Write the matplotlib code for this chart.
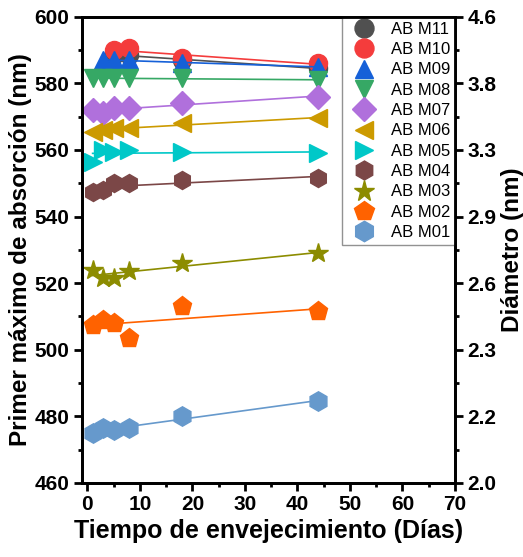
import matplotlib
matplotlib.use("Agg")
import matplotlib.pyplot as plt
import numpy as np
from matplotlib.ticker import MultipleLocator, FixedLocator

plt.rcParams['font.family'] = ['Liberation Sans', 'DejaVu Sans']

dias = [1, 3, 5, 8, 18, 44]
nan = np.nan

labels = ['AB M11', 'AB M10', 'AB M09', 'AB M08', 'AB M07', 'AB M06',
          'AB M05', 'AB M04', 'AB M03', 'AB M02', 'AB M01']
m11 = [nan, nan, 588.5, 588.5, 587, 584.5]
m10 = [nan, nan, 590, 590.5, 587.5, 586]
m09 = [nan, 587, 587, 587, 586, 585]
m08 = [581.5, 581.5, 581.5, 581.5, 581.5, 581]
m07 = [572, 571, 572.5, 572.5, 574, 576]
m06 = [565.5, 566, 566.7, 566.5, 568, 569.5]
m05 = [556.5, 560, 559.5, 560, 559.5, 559]
m04 = [547.5, 548, 550, 550, 551, 551.5]
m03 = [524, 521.5, 521.5, 523.5, 526, 529]
m02 = [507.5, 509, 508, 503.5, 513, 511.5]
m01 = [475, 476.5, 476, 476.5, 480, 484.5]
series = [m11, m10, m09, m08, m07, m06, m05, m04, m03, m02, m01]

colores = ['#505050', '#f43c3c', '#1560d8', '#36a865', '#b070dc', '#cc9a00',
           '#00c8c8', '#7b4747', '#8c8c00', '#ff6200', '#6699cc']
marcadores = ['o', 'o', '^', 'v', 'D', '<', '>', 'h', '*', 'p', 'h']
tamanos = [13, 13, 13, 13, 12, 13, 13, 13, 15, 14, 14]

diam_pos = [460, 480, 500, 520, 540, 560, 580, 600]
diam_txt = ['2.0', '2.2', '2.3', '2.6', '2.9', '3.3', '3.8', '4.6']

fig = plt.figure(figsize=(5.23, 5.57), dpi=100)
ax = fig.add_axes([0.157, 0.133, 0.713, 0.837])

for y, c, m, s, lab in zip(series, colores, marcadores, tamanos, labels):
    y = np.array(y)
    ok = ~np.isnan(y)
    x = np.array(dias)[ok]
    y = y[ok]
    p = np.polyfit(x, y, 1)
    xl = np.array([x[0], x[-1]])
    ax.plot(xl, np.polyval(p, xl), color=c, lw=1.2)
    ax.plot(x, y, ls='none', marker=m, ms=s, color=c, mec=c, label=lab)

ax.set_xlim(-1, 70)
ax.set_ylim(460, 600)
ax.xaxis.set_major_locator(MultipleLocator(10))
ax.xaxis.set_minor_locator(MultipleLocator(5))
ax.yaxis.set_major_locator(MultipleLocator(20))
ax.yaxis.set_minor_locator(MultipleLocator(10))

ax2 = ax.twinx()
ax2.set_ylim(460, 600)
ax2.yaxis.set_major_locator(FixedLocator(diam_pos))
ax2.yaxis.set_minor_locator(MultipleLocator(10))
ax2.set_yticklabels(diam_txt)

for a in (ax, ax2):
    for sp in a.spines.values():
        sp.set_linewidth(2)
    a.tick_params(which='major', length=6, width=2, labelsize=15, direction='out', pad=3)
    a.tick_params(which='minor', length=3, width=2, direction='out')
    for t in a.get_xticklabels() + a.get_yticklabels():
        t.set_fontweight('bold')

ax.set_xlabel('Tiempo de envejecimiento (Días)', fontsize=18, fontweight='bold', labelpad=3)
ax.set_ylabel('Primer máximo de absorción (nm)', fontsize=17.5, fontweight='bold', labelpad=2)
ax2.set_ylabel('Diámetro (nm)', fontsize=17.5, fontweight='bold', labelpad=3)

leg = ax.legend(loc='upper right', fontsize=12, frameon=True, fancybox=False,
                edgecolor='#777777', borderpad=0.3, labelspacing=0.32,
                handletextpad=0.6, borderaxespad=0.0, markerscale=1.05)
leg.get_frame().set_linewidth(1)

fig.savefig('out.png', dpi=100)
